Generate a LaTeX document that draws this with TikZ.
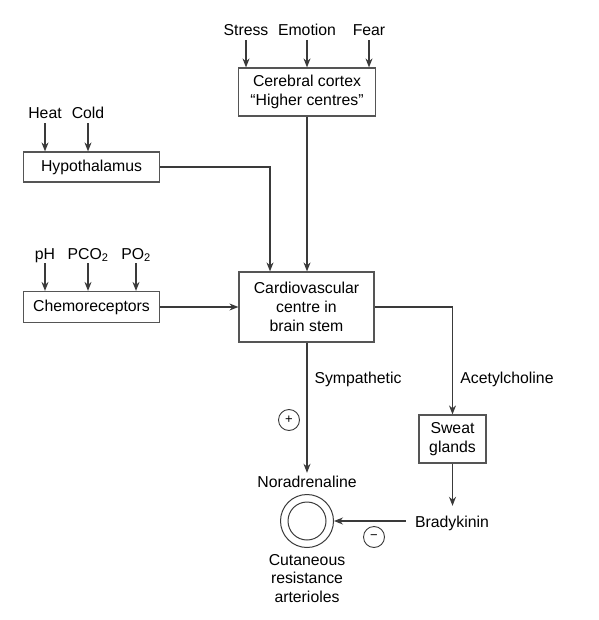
\documentclass[tikz,border=0pt]{standalone}
\usepackage{fontspec}
\setmainfont{Liberation Sans}
\usetikzlibrary{arrows.meta,calc}
\definecolor{linegray}{HTML}{3A3A3A}
\definecolor{boxgray}{HTML}{555555}
\begin{document}
\begin{tikzpicture}[x=1pt,y=-1pt,
 every node/.style={font=\fontsize{15.8}{18.7}\selectfont},
 box/.style={draw=boxgray, line width=1.2pt, align=center, inner sep=0pt},
 lbl/.style={inner sep=0pt, text height=11pt, text depth=4pt, anchor=base},
 arr/.style={-{Stealth[length=9pt,width=7pt]}, line width=1.1pt, draw=linegray},
 sign/.style={circle, draw=linegray, line width=0.9pt, minimum size=21pt, inner sep=0pt, font=\fontsize{13}{13}\selectfont},
 ring/.style={circle, draw=linegray, line width=1pt, inner sep=0pt}]
\useasboundingbox (0,0) rectangle (598,620);
% labels and boxes
\node[lbl] (stress) at (246,36) {Stress};
\node[lbl] (emotion) at (307,36) {Emotion};
\node[lbl] (fear) at (369,36) {Fear};
\node[box, minimum width=137pt, minimum height=48pt] (cortex) at (307,92) {Cerebral cortex\\“Higher centres”};
\node[lbl] (heat) at (45,119) {Heat};
\node[lbl] (cold) at (88,119) {Cold};
\node[box, minimum width=136pt, minimum height=30pt] (hypo) at (91.5,167) {Hypothalamus};
\node[lbl] (ph) at (45,259) {pH};
\node[lbl] (pco) at (88,259) {PCO\textsubscript{2}};
\node[lbl] (po) at (136,259) {PO\textsubscript{2}};
\node[box, minimum width=136pt, minimum height=31pt] (chemo) at (91.5,307) {Chemoreceptors};
\node[box, minimum width=135pt, minimum height=70pt] (cardio) at (306.5,307) {Cardiovascular\\centre in\\brain stem};
\node[lbl] (symp) at (358,383) {Sympathetic};
\node[lbl] (ach) at (507,383) {Acetylcholine};
\node[sign] (plus) at (289,420) {+};
\node[box, minimum width=67pt, minimum height=48pt] (sweat) at (452.5,439) {Sweat\\glands};
\node[lbl] (nor) at (307,487) {Noradrenaline};
\node[ring, minimum size=53pt] (outer) at (307,521) {};
\node[ring, minimum size=38pt] (inner) at (307,521) {};
\node[lbl, inner xsep=9pt] (brady) at (452,527) {Bradykinin};
\node[sign] (minus) at (374,537) {−};
\node[align=center, anchor=north, inner sep=0pt] (cut) at (307,554) {Cutaneous\\resistance\\arterioles};
\coordinate (hin) at (270,0);
% connectors
\draw[arr] (stress.south) -- (stress.south |- cortex.north);
\draw[arr] (emotion.south) -- (emotion.south |- cortex.north);
\draw[arr] (fear.south) -- (fear.south |- cortex.north);
\draw[arr] (heat.south) -- (heat.south |- hypo.north);
\draw[arr] (cold.south) -- (cold.south |- hypo.north);
\draw[arr] (ph.south) -- (ph.south |- chemo.north);
\draw[arr] (pco.south) -- (pco.south |- chemo.north);
\draw[arr] (po.south) -- (po.south |- chemo.north);
\draw[arr] (cortex.south) -- (cortex.south |- cardio.north);
\draw[arr] (hypo.east) -| (hin |- cardio.north);
\draw[arr] (chemo.east) -- (cardio.west);
\draw[arr] (cardio.east) -| (sweat.north);
\draw[arr, shorten >=3pt] (cardio.south -| cortex.south) -- (nor.north);
\draw[arr, shorten >=10pt] (sweat.south) -- (sweat.south |- brady.north);
\draw[arr] (brady.west |- outer.east) -- (outer.east);
\end{tikzpicture}
\end{document}
